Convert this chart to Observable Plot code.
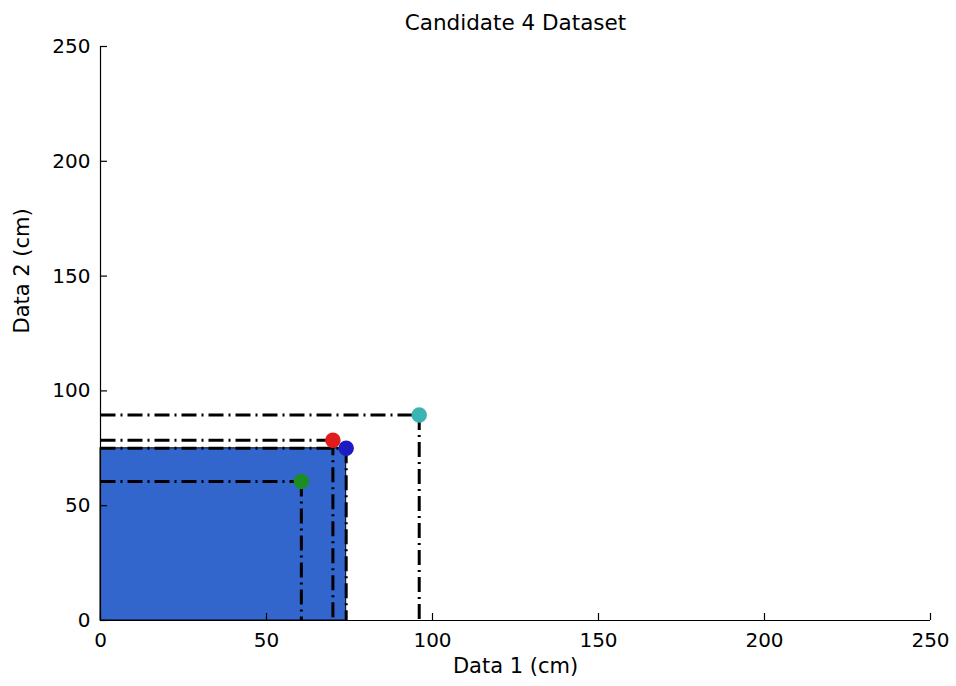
<!DOCTYPE html>
<html>
<head>
<meta charset="utf-8">
<script src="https://cdn.jsdelivr.net/npm/d3@7"></script>
<script src="https://cdn.jsdelivr.net/npm/@observablehq/plot@0.6"></script>
<style>
  html, body { margin: 0; padding: 0; background: #fff; }
  #chart svg { display: block; }
</style>
</head>
<body>
<div id="chart"></div>
<script>
// ---- data ----
const pointNames = ["green", "red", "blue", "cyan"];
const data1 = [60.5, 70, 74, 96];      // Data 1 (cm)
const data2 = [60.5, 78.5, 75, 89.5];  // Data 2 (cm)
const pointColors = ["#1e8c24", "#e01c1c", "#1c1cc4", "#3cb4b4"];
const areaX = [0, 74];
const areaY = [0, 75];
const xTicks = [0, 50, 100, 150, 200, 250];
const yTicks = [0, 50, 100, 150, 200, 250];
const title = "Candidate 4 Dataset";
const xLabel = "Data 1 (cm)";
const yLabel = "Data 2 (cm)";

const points = pointNames.map((n, i) => ({name: n, x: data1[i], y: data2[i], color: pointColors[i]}));
const area = [{x1: areaX[0], x2: areaX[1], y1: areaY[0], y2: areaY[1]}];

const W = 956, H = 686;
const mL = 100, mR = 26, mT = 46, mB = 66;
const innerW = W - mL - mR, innerH = H - mT - mB;
const font = "DejaVu Sans";
const dash = "15,5,2,5";

const chart = Plot.plot({
  width: W,
  height: H,
  marginLeft: mL, marginRight: mR, marginTop: mT, marginBottom: mB,
  style: {fontFamily: font, fontSize: "20px", color: "#000", background: "#fff"},
  x: {domain: [0, 250]},
  y: {domain: [0, 250]},
  marks: [
    Plot.rect(area, {x1: "x1", x2: "x2", y1: "y1", y2: "y2", fill: "#3366cc", stroke: "#000", strokeWidth: 1}),
    Plot.link(points, {x1: 0, x2: "x", y1: "y", y2: "y", stroke: "#000", strokeWidth: 3, strokeDasharray: dash}),
    Plot.link(points, {x1: "x", x2: "x", y1: "y", y2: 0, stroke: "#000", strokeWidth: 3, strokeDasharray: dash}),
    Plot.dot(points, {x: "x", y: "y", r: 7, fill: "color", stroke: "color"}),
    Plot.ruleY([0], {stroke: "#000", strokeWidth: 1.2}),
    Plot.ruleX([0], {stroke: "#000", strokeWidth: 1.2}),
    Plot.tickX(xTicks, {x: d => d, insetTop: innerH - 7, stroke: "#000", strokeWidth: 1.2}),
    Plot.tickY(yTicks, {y: d => d, insetRight: innerW - 7, stroke: "#000", strokeWidth: 1.2}),
    Plot.axisX({ticks: xTicks, tickSize: 0, tickPadding: 12, label: null, fontSize: 20}),
    Plot.axisY({ticks: yTicks, tickSize: 0, tickPadding: 10, label: null, fontSize: 20}),
    Plot.text([title], {text: d => d, frameAnchor: "top", dy: -32, fontSize: 21.5, fill: "#000"}),
    Plot.text([xLabel], {text: d => d, frameAnchor: "bottom", dy: 52, fontSize: 21, fill: "#000"}),
    Plot.text([yLabel], {text: d => d, frameAnchor: "left", dx: -78, rotate: -90, fontSize: 21, fill: "#000"})
  ]
});
document.getElementById("chart").appendChild(chart);
</script>
</body>
</html>
